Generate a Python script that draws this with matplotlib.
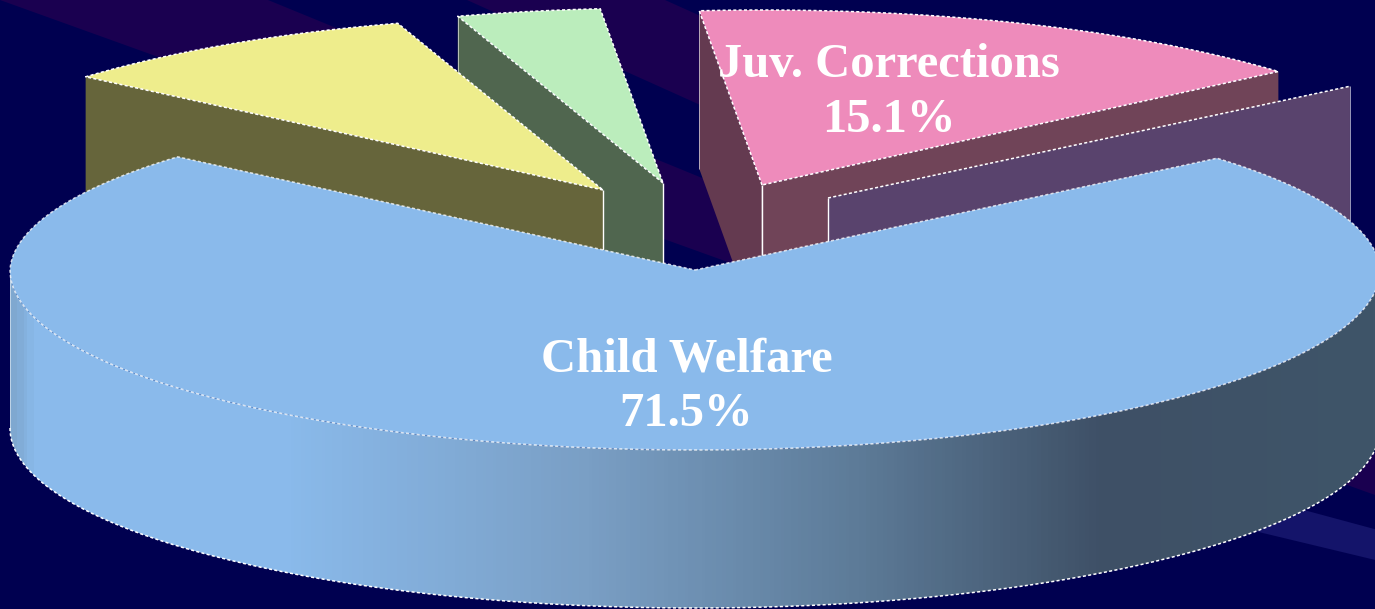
import numpy as np
import matplotlib
matplotlib.use("Agg")
import matplotlib.pyplot as plt
from matplotlib.colors import LinearSegmentedColormap
from matplotlib.patches import Polygon

# Data: slices clockwise from the upper left
names = ["", "", "Juv. Corrections", "", "Child Welfare"]
values = [8.8, 3.4, 15.1, 0.2, 71.5]
labels = ["", "", "15.1%", "", "71.5%"]

START = 139.7
CX, CY = 695, 270
RX, RY = 685, 180
RY_BACK = 175
DEPTH = 158

top_colors = ["#eeed8c", "#bbedbc", "#ee8bbb", "#5a446e", "#8abaeb"]
side_colors = ["#66653b", "#50664f", "#704458", "#59436d", "#8abaeb"]
apex = [(603, 190), (663, 183), (762, 185), (828, 198), (CX, CY)]

fig = plt.figure(figsize=(13.75, 6.09), dpi=100, facecolor="#000050")
ax = fig.add_axes([0, 0, 1, 1])
ax.set_xlim(0, 1375)
ax.set_ylim(609, 0)
ax.axis("off")


def band(m1, x1, m2, x2, color, x_left=0):
    # streak in the background between two sloping lines
    xs = np.array([x_left, 1375])
    pts = [(xs[0], m1 * (xs[0] - x1)), (xs[1], m1 * (xs[1] - x1)),
           (xs[1], m2 * (xs[1] - x2)), (xs[0], m2 * (xs[0] - x2))]
    ax.add_patch(Polygon(pts, closed=True, fc=color, ec="none", zorder=0))


band(0.41, 268, 0.36, 0, "#1a0050")
band(0.45, 665, 0.45, 467, "#1a0050")
band(0.27, -585, 0.24, -958, "#14146a", 1200)


def point(a, x0=CX, y0=CY):
    # back of the pie is a bit smaller, like in the perspective of the original
    t = np.radians(a)
    s = np.sin(t)
    x = RX * np.cos(t) * (1 - 0.015 * np.clip(s, 0, 1))
    y = np.where(s > 0, RY_BACK, RY) * s
    return x0 + x, y0 - y


def arc(a0, a1, x0=CX, y0=CY, n=200):
    return point(np.linspace(a0, a1, n), x0, y0)


def edge(xs, ys, z, style=(0, (2, 1.5)), lw=1.1, alpha=1.0):
    ax.plot(xs, ys, color="white", lw=lw, ls=style, alpha=alpha, zorder=z,
            solid_capstyle="butt")


# Angles come from the values
sweep = np.array(values) / sum(values) * 360
ends = START - np.cumsum(sweep)
starts = ends + sweep
yellow, green, juv, purple, child = range(5)


def wall(i, a, z, color=None, outer=True):
    x0, y0 = apex[i]
    x1, y1 = point(a, x0, y0)
    pts = [(x0, y0), (x1, y1), (x1, y1 + DEPTH), (x0, y0 + DEPTH)]
    ax.add_patch(Polygon(pts, closed=True, fc=color or side_colors[i], ec="none", zorder=z))
    if outer:
        edge([x1, x1], [y1, y1 + DEPTH], z + 0.1, "-", 0.7, 0.6)
    edge([x0, x0], [y0, y0 + DEPTH], z + 0.1, "-", 1.0)


def top(i, z, alpha=1.0):
    x0, y0 = apex[i]
    xs, ys = arc(starts[i], ends[i], x0, y0)
    pts = np.column_stack([np.r_[x0, xs], np.r_[y0, ys]])
    ax.add_patch(Polygon(pts, closed=True, fc=top_colors[i], ec="none", zorder=z))
    edge(np.r_[x0, xs, x0], np.r_[y0, ys, y0], z + 0.1, alpha=alpha)


# Juv. Corrections, two cut faces and the top
wall(juv, starts[juv], 2, "#643a50")
wall(juv, ends[juv], 2.2, outer=False)
top(juv, 3)

# The thin slice behind Child Welfare, only its cut face shows
wall(purple, ends[purple], 4)
x1, y1 = point(ends[purple], *apex[purple])
edge([apex[purple][0], x1], [apex[purple][1], y1], 4.2)

# Green and yellow
wall(green, starts[green], 5)
top(green, 6)
wall(yellow, starts[yellow], 7, outer=False)
top(yellow, 8)

# Child Welfare, front wall with a gradient, then the top
xs, ys = arc(180, 360)
wall_pts = np.column_stack([np.r_[xs, xs[::-1]], np.r_[ys, ys[::-1] + DEPTH]])
wall_patch = Polygon(wall_pts, closed=True, fc="none", ec="none", zorder=9)
ax.add_patch(wall_patch)
shade = LinearSegmentedColormap.from_list("shade", [
    (0.0, "#7fa8d0"), (0.015, "#8abaeb"), (0.2, "#8abaeb"), (0.42, "#7a9fc5"),
    (0.62, "#5d7b98"), (0.8, "#3e5066"), (1.0, "#3f5569")])
img = ax.imshow(np.linspace(0, 1, 400).reshape(1, -1), cmap=shade, aspect="auto",
                extent=[10, 1380, 609, 0], zorder=9)
img.set_clip_path(wall_patch)
ax.set_xlim(0, 1375)
ax.set_ylim(609, 0)
edge(xs, ys + DEPTH, 9.1)
edge([xs[0], xs[0]], [ys[0], ys[0] + DEPTH], 9.1, "-", 0.7, 0.5)
top(child, 10, 0.75)

# Labels
font = dict(family="Liberation Serif", weight="bold", color="white", ha="center",
            va="center", fontsize=35, zorder=12)
ax.text(889, 65, names[juv], **font)
ax.text(889, 120, labels[juv], **font)
ax.text(687, 360, names[child], **font)
ax.text(686, 414, labels[child], **font)

fig.savefig("out.png", dpi=100, facecolor=fig.get_facecolor())
